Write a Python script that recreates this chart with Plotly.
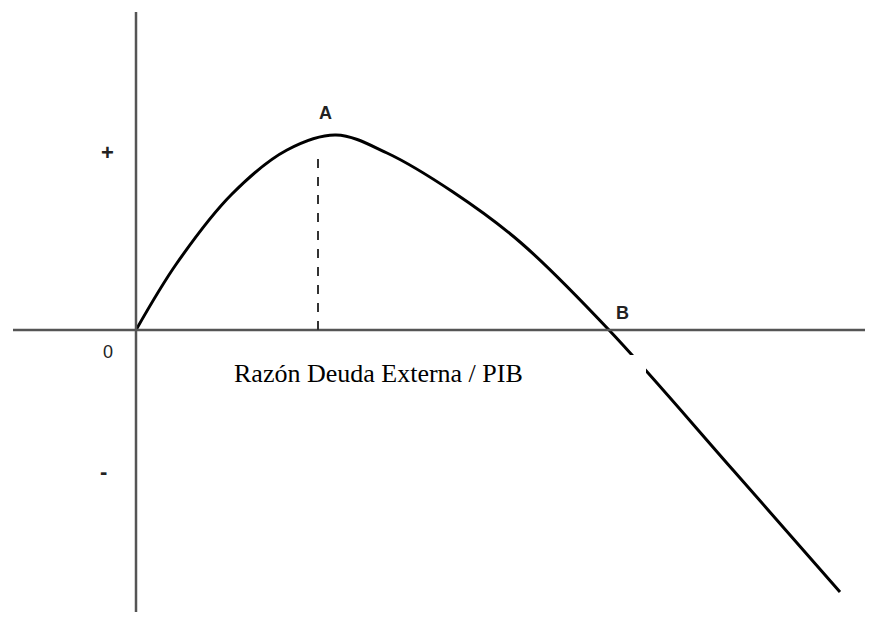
import plotly.graph_objects as go

# curve (x = debt/GDP ratio, y = effect), arbitrary units
ratio = [0.0, 0.41, 0.96, 1.51, 2.0, 2.51, 3.17, 3.84, 4.73, 5.97, 7.04]
effect = [0.0, 0.67, 1.36, 1.80, 1.95, 1.77, 1.38, 0.88, 0.0, -1.40, -2.62]

point_a = (1.82, 1.78)   # top of dashed line
axis_x = [-1.23, 7.37]
axis_y = [-2.82, 3.18]

fig = go.Figure()

# axes
fig.add_shape(type="line", x0=axis_x[0], x1=axis_x[1], y0=0, y1=0,
              line=dict(color="#555555", width=2.5))
fig.add_shape(type="line", x0=0, x1=0, y0=axis_y[0], y1=axis_y[1],
              line=dict(color="#555555", width=2.5))

# dashed line under A
fig.add_shape(type="line", x0=point_a[0], x1=point_a[0], y0=0, y1=point_a[1],
              line=dict(color="#333333", width=2, dash="dash"))

fig.add_trace(go.Scatter(
    x=ratio, y=effect, mode="lines",
    line=dict(color="black", width=3, shape="spline", smoothing=1.0),
    showlegend=False, hoverinfo="skip"
))

# white box behind the axis title (cuts the curve)
fig.add_shape(type="rect", x0=0.84, x1=5.10, y0=-0.25, y1=-0.68,
              fillcolor="white", line=dict(width=0), layer="above")

lbl_font = dict(family="Liberation Sans, Arial", size=18, color="#222222")
fig.add_annotation(x=1.89, y=2.17, text="<b>A</b>", showarrow=False, font=lbl_font)
fig.add_annotation(x=4.86, y=0.17, text="<b>B</b>", showarrow=False, font=lbl_font)
fig.add_annotation(x=-0.29, y=1.78, text="<b>+</b>", showarrow=False,
                   font=dict(family="Liberation Sans, Arial", size=22, color="#222222"))
fig.add_annotation(x=-0.28, y=-0.22, text="0", showarrow=False, font=lbl_font)
fig.add_annotation(x=-0.33, y=-1.41, text="<b>-</b>", showarrow=False,
                   font=dict(family="Liberation Sans, Arial", size=22, color="#222222"))

fig.add_annotation(x=2.42, y=-0.43, text="Razón Deuda Externa / PIB", showarrow=False,
                   font=dict(family="Liberation Serif, Times New Roman", size=26, color="black"))

# page body adds an 8px offset, so the figure is 865x610 and ranges account for it
fig.update_xaxes(range=[-1.28, 7.37], visible=False)
fig.update_yaxes(range=[-2.88, 3.22], visible=False)
fig.update_layout(
    width=865, height=610,
    margin=dict(l=0, r=0, t=0, b=0),
    plot_bgcolor="white", paper_bgcolor="white"
)

fig.write_html("out.html")
